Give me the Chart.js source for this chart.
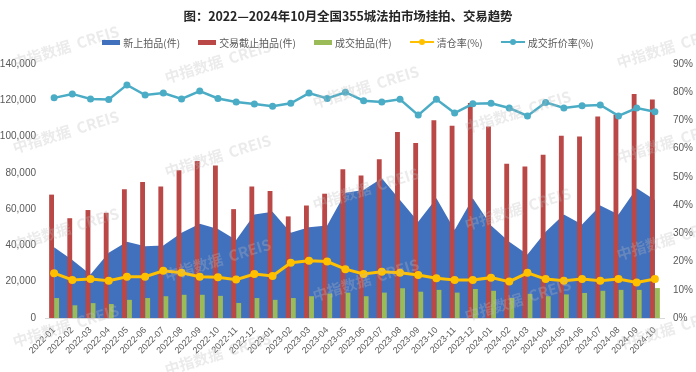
<!DOCTYPE html>
<html><head><meta charset="utf-8">
<script src="https://cdn.jsdelivr.net/npm/chart.js@4.4.0/dist/chart.umd.min.js"></script>
<style>
html,body{margin:0;padding:0;background:#fff;}
#wrap{position:relative;width:696px;height:372px;overflow:hidden;}
canvas{position:absolute;left:0;top:0;}
#title{position:absolute;top:6px;left:0;width:696px;text-align:center;font:bold 12.5px "Noto Sans CJK SC",sans-serif;color:#262626;white-space:nowrap;letter-spacing:-0.1px;}
#legend{position:absolute;top:35px;left:0;width:696px;display:flex;justify-content:center;font:10px "Noto Sans CJK SC",sans-serif;color:#595959;white-space:nowrap;}
.item{display:flex;align-items:center;margin:0 9px;height:14px;}
.box{width:18px;height:5px;margin-right:3px;}
.ln{position:relative;width:24px;height:2px;margin-right:3px;}
.ln i{position:absolute;left:9px;top:-2px;width:6px;height:6px;border-radius:50%;}
</style></head><body>
<div id="wrap">
<canvas id="c" width="696" height="372"></canvas>
<div id="title">图：2022—2024年10月全国355城法拍市场挂拍、交易趋势</div>
<div id="legend"></div>
</div>
<script>
const categories = ["2022-01","2022-02","2022-03","2022-04","2022-05","2022-06","2022-07","2022-08","2022-09","2022-10","2022-11","2022-12",
"2023-01","2023-02","2023-03","2023-04","2023-05","2023-06","2023-07","2023-08","2023-09","2023-10","2023-11","2023-12",
"2024-01","2024-02","2024-03","2024-04","2024-05","2024-06","2024-07","2024-08","2024-09","2024-10"];
const newListings = [39000,32000,24000,36000,42000,39500,40000,47000,52000,49000,43000,57000,
58500,47000,50000,51000,69000,70500,77000,65000,53000,66000,48500,66000,
51000,42000,35000,47500,57000,51500,62000,57000,71500,65000];
const closedListings = [68000,55000,59500,58000,71000,75000,72500,81500,86500,84000,60000,72500,
70000,56000,62000,68500,82000,78500,87500,102500,96500,109000,106000,118500,
105500,85000,83500,90000,100500,100000,111000,112000,123500,120500];
const dealListings = [11000,7000,8200,7700,10000,11000,12000,12800,12800,12200,8300,11000,
10000,11000,12000,13500,14000,12000,14000,16400,14500,15500,14000,16000,
15000,11000,13300,12000,13000,13800,15000,15500,15500,16500];
const clearanceRate = [15.9,13.5,13.8,13.2,14.6,14.6,16.7,16.0,14.6,14.4,13.6,15.6,
14.9,19.6,20.3,20.0,17.3,15.6,16.4,16.0,15.2,14.1,13.5,13.5,
14.3,12.9,16.0,13.8,13.2,13.8,13.2,13.8,12.6,13.8];
const discountRate = [78.0,79.4,77.6,77.4,82.6,79.0,79.7,77.6,80.4,77.8,76.5,75.8,
75.0,76.1,79.7,77.8,80.0,77.0,76.5,77.5,71.9,77.5,72.6,75.9,
76.1,74.4,71.6,76.4,74.4,75.2,75.5,71.6,74.4,73.1];
const leftTicks = [0,20000,40000,60000,80000,100000,120000,140000];
const rightTicks = [0,10,20,30,40,50,60,70,80,90];

const COLORS = {blue:'#4170BD', red:'#B94846', green:'#9BBB59', yellow:'#FFC000', cyan:'#4BACC6'};

const legendItems = [
 {t:'新上拍品(件)', c:COLORS.blue, k:'box'},
 {t:'交易截止拍品(件)', c:COLORS.red, k:'box'},
 {t:'成交拍品(件)', c:COLORS.green, k:'box'},
 {t:'清仓率(%)', c:COLORS.yellow, k:'ln'},
 {t:'成交折价率(%)', c:COLORS.cyan, k:'ln'}
];
const lg = document.getElementById('legend');
legendItems.forEach(it=>{
  const d=document.createElement('div'); d.className='item';
  if(it.k==='box'){ d.innerHTML='<span class="box" style="background:'+it.c+'"></span>'; }
  else { d.innerHTML='<span class="ln" style="background:'+it.c+'"><i style="background:'+it.c+'"></i></span>'; }
  const s=document.createElement('span'); s.textContent=it.t; d.appendChild(s);
  lg.appendChild(d);
});

const watermarks = [
 [13,63],[13,148],[13,245],[13,342],
 [165,78],[165,172],[165,276],[165,370],
 [313,103],[313,205],[313,296],
 [465,128],[465,225],[465,316],
 [617,63],[617,158],[617,255],[617,345]
];
const wmPlugin = {
  id:'wm',
  afterDraw(chart){
    const ctx=chart.ctx; ctx.save();
    ctx.font='bold 15px "Noto Sans CJK SC", sans-serif';
    ctx.fillStyle='rgba(190,190,190,0.30)';
    ctx.textBaseline='middle';
    watermarks.forEach(p=>{
      ctx.save(); ctx.translate(p[0],p[1]); ctx.rotate(-17*Math.PI/180);
      ctx.fillText('中指数据  CREIS',0,0); ctx.restore();
    });
    ctx.restore();
  }
};

new Chart(document.getElementById('c'), {
  type:'bar',
  data:{
    labels:categories,
    datasets:[
      {type:'line', label:'新上拍品(件)', data:newListings, yAxisID:'y', fill:'origin',
       backgroundColor:COLORS.blue, borderColor:COLORS.blue, borderWidth:0, pointRadius:0, tension:0, order:5},
      {type:'bar', label:'交易截止拍品(件)', data:closedListings, yAxisID:'y', backgroundColor:COLORS.red,
       categoryPercentage:0.56, barPercentage:0.95, order:3},
      {type:'bar', label:'成交拍品(件)', data:dealListings, yAxisID:'y', backgroundColor:COLORS.green,
       categoryPercentage:0.56, barPercentage:0.95, order:3},
      {type:'line', label:'清仓率(%)', data:clearanceRate, yAxisID:'y1', borderColor:COLORS.yellow,
       backgroundColor:COLORS.yellow, borderWidth:3, pointRadius:4, pointBorderWidth:0, tension:0, fill:false, order:1},
      {type:'line', label:'成交折价率(%)', data:discountRate, yAxisID:'y1', borderColor:COLORS.cyan,
       backgroundColor:COLORS.cyan, borderWidth:2.5, pointRadius:3.5, pointBorderWidth:0, tension:0, fill:false, order:0}
    ]
  },
  options:{
    responsive:false, animation:false, devicePixelRatio:1,
    layout:{padding:{top:64,left:0,right:0,bottom:0}},
    plugins:{legend:{display:false}, title:{display:false}, tooltip:{enabled:false}},
    scales:{
      x:{
        grid:{display:false, drawTicks:false},
        border:{display:true, color:'#d9d9d9'},
        ticks:{autoSkip:false, maxRotation:45, minRotation:45, color:'#595959',
          font:{size:9, family:'"Liberation Sans", sans-serif'}, padding:7},
        afterFit(s){ s.height = 54; }
      },
      y:{
        position:'left', min:0, max:140000,
        afterBuildTicks(s){ s.ticks = leftTicks.map(v=>({value:v})); },
        grid:{display:false, drawTicks:false}, border:{display:false},
        ticks:{color:'#595959', font:{size:10, family:'"Liberation Sans", sans-serif'}, padding:9},
        afterFit(s){ s.width = 45; }
      },
      y1:{
        position:'right', min:0, max:90,
        afterBuildTicks(s){ s.ticks = rightTicks.map(v=>({value:v})); },
        grid:{display:false, drawTicks:false}, border:{display:false},
        ticks:{color:'#595959', font:{size:10, family:'"Liberation Sans", sans-serif'}, padding:9,
          callback:v=>v+'%'},
        afterFit(s){ s.width = 32; }
      }
    }
  },
  plugins:[wmPlugin]
});
</script>
</body></html>
